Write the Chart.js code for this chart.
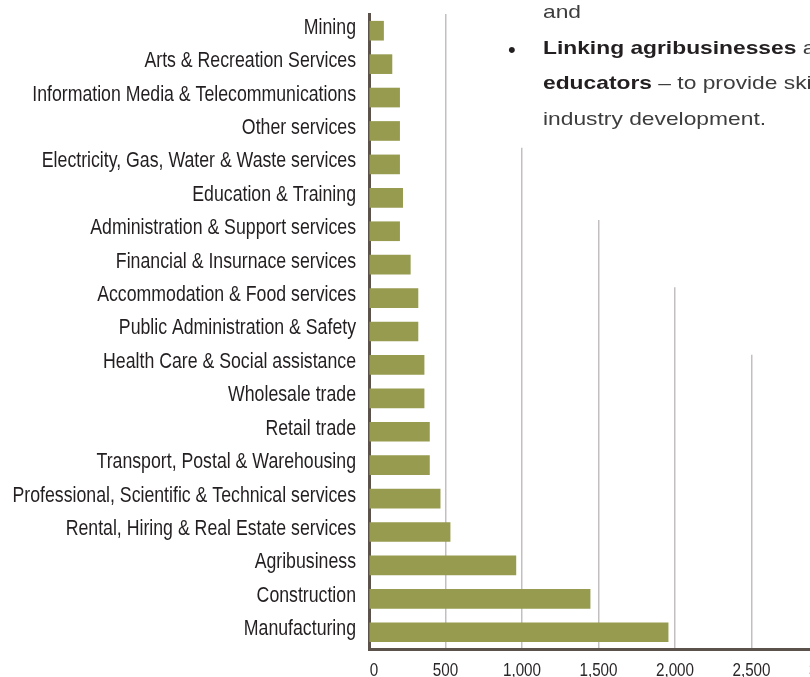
<!DOCTYPE html>
<html>
<head>
<meta charset="utf-8">
<script src="https://cdn.jsdelivr.net/npm/chart.js@4/dist/chart.umd.min.js"></script>
<style>
  html, body { margin: 0; padding: 0; background: #fff; }
  body { width: 810px; height: 677px; overflow: hidden; position: relative; }
  #c { position: absolute; left: 0; top: 0; }
  #mask { position: absolute; left: 0; top: 0; }
  #txt {
    position: absolute; left: 543px; top: -6px;
    font-family: 'Liberation Sans', Arial, sans-serif; font-size: 19px; line-height: 35.7px;
    color: #3d3d3d; white-space: nowrap; transform: scaleX(1.2); transform-origin: 0 0;
  }
  #txt b { color: #231f20; }
  #bullet {
    position: absolute; left: 508px; top: 37px;
    font-family: 'Liberation Sans', Arial, sans-serif; font-size: 22px; color: #231f20;
  }
</style>
</head>
<body>
<canvas id="c" width="830" height="677"></canvas>
<svg id="mask" width="810" height="677">
  <polygon fill="#fff" points="480,0 810,0 810,354.7 720,354.7 720,287.3 640,287.3 640,220 560,220 560,147.7 480,147.7"/>
</svg>
<div id="bullet">•</div>
<div id="txt">
  <div>and</div>
  <div><b>Linking agribusinesses</b> and</div>
  <div><b>educators</b> – to provide skills for</div>
  <div>industry development.</div>
</div>
<script>
const categories = [
  "Mining",
  "Arts & Recreation Services",
  "Information Media & Telecommunications",
  "Other services",
  "Electricity, Gas, Water & Waste services",
  "Education & Training",
  "Administration & Support services",
  "Financial & Insurnace services",
  "Accommodation & Food services",
  "Public Administration & Safety",
  "Health Care & Social assistance",
  "Wholesale trade",
  "Retail trade",
  "Transport, Postal & Warehousing",
  "Professional, Scientific & Technical services",
  "Rental, Hiring & Real Estate services",
  "Agribusiness",
  "Construction",
  "Manufacturing"
];
const values = [95, 150, 200, 200, 200, 220, 200, 270, 320, 320, 360, 360, 395, 395, 465, 530, 960, 1445, 1955];
const xTickMin = 0;
const xTickMax = 3000;
const xTickStep = 500;

const labelFamily = "'Liberation Sans', Arial, sans-serif";

// Draws the tick labels in a condensed (horizontally squeezed) face,
// at the positions given by Chart.js' own scales.
const condensedLabels = {
  id: 'condensedLabels',
  afterDraw(chart) {
    const ctx = chart.ctx;
    const ys = chart.scales.y, xs = chart.scales.x;
    ctx.save();
    // category labels
    ctx.fillStyle = '#231f20';
    ctx.font = '21.6px ' + labelFamily;
    ctx.textAlign = 'right';
    ctx.textBaseline = 'middle';
    ys.ticks.forEach((t, i) => {
      const y = ys.getPixelForTick(i) - 3;
      const x = ys.right - 13;
      ctx.save();
      ctx.translate(x, y);
      ctx.scale(0.82, 1);
      ctx.fillText(categories[i], 0, 0);
      ctx.restore();
    });
    // value labels
    ctx.fillStyle = '#2b2728';
    ctx.font = '17.5px ' + labelFamily;
    ctx.textAlign = 'center';
    ctx.textBaseline = 'middle';
    xs.ticks.forEach((t, i) => {
      const x = xs.getPixelForTick(i) + (t.value === 0 ? 5 : 0);
      const y = xs.bottom - 6;
      ctx.save();
      ctx.translate(x, y);
      ctx.scale(0.87, 1);
      ctx.fillText(t.value.toLocaleString('en-US'), 0, 0);
      ctx.restore();
    });
    ctx.restore();
  }
};

new Chart(document.getElementById('c'), {
  type: 'bar',
  data: {
    labels: categories,
    datasets: [{
      data: values,
      backgroundColor: '#969b4f',
      borderWidth: 0,
      barThickness: 19
    }]
  },
  plugins: [condensedLabels],
  options: {
    indexAxis: 'y',
    responsive: false,
    animation: false,
    layout: { padding: { top: 14, right: 2, left: 0, bottom: 0 } },
    plugins: { legend: { display: false }, tooltip: { enabled: false } },
    scales: {
      x: {
        type: 'linear',
        min: xTickMin,
        max: xTickMax,
        ticks: { display: false, stepSize: xTickStep },
        grid: {
          drawTicks: false,
          color: ctx => (ctx.tick && ctx.tick.value === 0) ? 'rgba(0,0,0,0)' : '#c3bfbf',
          lineWidth: 1.5
        },
        border: { display: true, color: '#5c524c', width: 3 },
        afterFit: s => { s.height = 28; s.paddingLeft = 0; s.paddingRight = 0; }
      },
      y: {
        z: 1,
        ticks: { display: false },
        grid: { display: false, drawTicks: false },
        border: { display: true, color: '#5c524c', width: 3 },
        afterFit: s => { s.width = 369; s.paddingTop = 0; s.paddingBottom = 0; }
      }
    }
  }
});
</script>
</body>
</html>
